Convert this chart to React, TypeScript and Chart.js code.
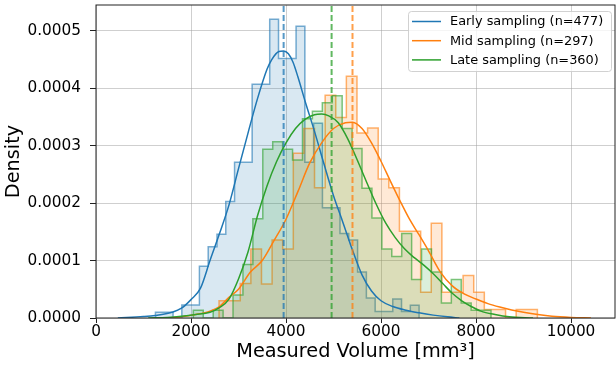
import { useEffect, useRef } from "react";
import { Chart, registerables } from "chart.js";

Chart.register(...registerables);

// ---------- data ----------
const seriesNames = ["Early sampling", "Mid sampling", "Late sampling"];
const sampleSizes = [477, 297, 360];
const seriesRgb = ["31,119,180", "255,127,14", "44,160,44"];

// histogram bins (density)
const earlyBinStart = 1252;
const earlyBinWidth = 185;
const earlyDensity = [
  1.0e-5, 1.0e-5, 0, 2.26e-5, 2.26e-5, 0.9e-4, 1.24e-4, 1.46e-4, 2.03e-4, 2.71e-4,
  2.71e-4, 4.07e-4, 4.07e-4, 5.2e-4, 4.52e-4, 4.52e-4, 5.08e-4, 2.71e-4, 3.39e-4, 1.92e-4,
  1.92e-4, 1.47e-4, 1.36e-4, 0.8e-4, 0.35e-4, 1.15e-5, 1.15e-5, 0.33e-4, 1.15e-5, 2.2e-5,
];

const midBinStart = 2590;
const midBinWidth = 223.4;
const midDensity = [
  3.0e-5, 3.0e-5, 0.6e-4, 1.2e-4, 0.59e-4, 1.36e-4, 1.2e-4, 2.87e-4, 3.3e-4, 2.27e-4,
  3.88e-4, 3.49e-4, 4.21e-4, 3.22e-4, 3.31e-4, 2.42e-4, 2.27e-4, 1.51e-4, 1.51e-4, 0.45e-4,
  1.65e-4, 0.45e-4, 0.45e-4, 0.74e-4, 0.45e-4, 1.5e-5, 1.5e-5, 0, 1.5e-5, 1.5e-5,
];

const lateBinStart = 2049;
const lateBinWidth = 208.9;
const lateDensity = [
  1.33e-5, 0, 1.33e-5, 0, 0.4e-4, 0.93e-4, 1.73e-4, 2.94e-4, 3.07e-4, 2.94e-4,
  2.75e-4, 3.47e-4, 3.6e-4, 3.75e-4, 3.87e-4, 3.3e-4, 2.95e-4, 2.26e-4, 1.74e-4, 1.2e-4,
  1.07e-4, 1.47e-4, 0.67e-4, 1.2e-4, 0.8e-4, 0.26e-4, 0.67e-4, 0.26e-4, 1.33e-5, 1.33e-5,
];

// KDE curves
const earlyKdeX = [460, 1000, 1250, 1600, 1800, 2000, 2200, 2400, 2600, 2800, 3000, 3200, 3400, 3600, 3700, 3850, 3950, 4050, 4150, 4250, 4400, 4600, 4800, 5000, 5200, 5400, 5600, 5800, 6000, 6250, 6500, 6800, 7100, 7400, 7650];
const earlyKdeY = [0, 0.025e-4, 0.045e-4, 0.1e-4, 0.17e-4, 0.32e-4, 0.52e-4, 1.0e-4, 1.47e-4, 1.97e-4, 2.6e-4, 3.22e-4, 3.82e-4, 4.33e-4, 4.5e-4, 4.64e-4, 4.65e-4, 4.6e-4, 4.45e-4, 4.2e-4, 3.78e-4, 3.25e-4, 2.68e-4, 2.13e-4, 1.66e-4, 1.18e-4, 0.75e-4, 0.47e-4, 0.3e-4, 0.2e-4, 0.14e-4, 0.09e-4, 0.05e-4, 0.02e-4, 0];

const midKdeX = [1460, 1800, 2100, 2400, 2600, 2800, 3000, 3250, 3500, 3750, 4000, 4250, 4500, 4750, 5000, 5250, 5400, 5600, 5800, 6000, 6200, 6400, 6600, 6800, 7000, 7250, 7500, 7750, 8000, 8250, 8500, 8750, 9000, 9300, 9600, 10000, 10420];
const midKdeY = [0, 0.02e-4, 0.06e-4, 0.12e-4, 0.2e-4, 0.36e-4, 0.5e-4, 0.8e-4, 1.0e-4, 1.35e-4, 1.72e-4, 2.2e-4, 2.7e-4, 3.05e-4, 3.3e-4, 3.4e-4, 3.41e-4, 3.3e-4, 3.05e-4, 2.73e-4, 2.38e-4, 2.04e-4, 1.72e-4, 1.45e-4, 1.17e-4, 0.8e-4, 0.56e-4, 0.42e-4, 0.33e-4, 0.25e-4, 0.19e-4, 0.14e-4, 0.1e-4, 0.06e-4, 0.03e-4, 0.01e-4, 0];

const lateKdeX = [1100, 1500, 1800, 2100, 2400, 2600, 2800, 3000, 3200, 3400, 3600, 3800, 4000, 4200, 4400, 4600, 4750, 4900, 5100, 5300, 5500, 5700, 5900, 6100, 6300, 6500, 6700, 6900, 7100, 7300, 7500, 7700, 7900, 8100, 8400, 8700, 9200];
const lateKdeY = [0, 0.01e-4, 0.03e-4, 0.06e-4, 0.1e-4, 0.18e-4, 0.33e-4, 0.68e-4, 1.15e-4, 1.78e-4, 2.3e-4, 2.72e-4, 3.05e-4, 3.3e-4, 3.46e-4, 3.54e-4, 3.55e-4, 3.52e-4, 3.4e-4, 3.12e-4, 2.75e-4, 2.36e-4, 1.98e-4, 1.65e-4, 1.4e-4, 1.2e-4, 1.05e-4, 0.92e-4, 0.77e-4, 0.6e-4, 0.43e-4, 0.3e-4, 0.2e-4, 0.12e-4, 0.06e-4, 0.02e-4, 0];

// mean markers (dashed lines)
const meanValues = [3950, 5400, 4960];

// axes
const xTicks = [0, 2000, 4000, 6000, 8000, 10000];
const yTicks = [0, 0.0001, 0.0002, 0.0003, 0.0004, 0.0005];
const xMin = 0;
const xMax = 10926;
const yMin = 0;
const yMax = 0.000545;
const xTitle = "Measured Volume [mm³]";
const yTitle = "Density";

// ---------- helpers ----------
const FONT = "DejaVu Sans";

function stepPoints(start: number, width: number, dens: number[]) {
  const pts: { x: number; y: number }[] = [{ x: start, y: 0 }];
  dens.forEach((d, i) => pts.push({ x: start + i * width, y: d }));
  pts.push({ x: start + dens.length * width, y: 0 });
  return pts;
}

function zip(xs: number[], ys: number[]) {
  return xs.map((x, i) => ({ x, y: ys[i] }));
}

const framePlugin = {
  id: "frameAndLegend",
  afterDraw(chart: any) {
    const { ctx, chartArea: a } = chart;
    ctx.save();
    // frame
    ctx.strokeStyle = "#222";
    ctx.lineWidth = 1;
    ctx.strokeRect(a.left, a.top, a.right - a.left, a.bottom - a.top);

    // legend
    const lx = 408.5, ly = 11.5, lw = 203, lh = 60, r = 3;
    ctx.beginPath();
    ctx.moveTo(lx + r, ly);
    ctx.arcTo(lx + lw, ly, lx + lw, ly + lh, r);
    ctx.arcTo(lx + lw, ly + lh, lx, ly + lh, r);
    ctx.arcTo(lx, ly + lh, lx, ly, r);
    ctx.arcTo(lx, ly, lx + lw, ly, r);
    ctx.closePath();
    ctx.fillStyle = "rgba(255,255,255,0.8)";
    ctx.fill();
    ctx.strokeStyle = "rgba(204,204,204,0.9)";
    ctx.lineWidth = 1;
    ctx.stroke();

    ctx.font = `12.9px "${FONT}"`;
    ctx.textBaseline = "middle";
    ctx.textAlign = "left";
    seriesNames.forEach((name, i) => {
      const y = 21.5 + i * 19.2;
      ctx.strokeStyle = `rgb(${seriesRgb[i]})`;
      ctx.lineWidth = 1.5;
      ctx.beginPath();
      ctx.moveTo(412, y);
      ctx.lineTo(441, y);
      ctx.stroke();
      ctx.fillStyle = "#000";
      ctx.fillText(`${name} (n=${sampleSizes[i]})`, 450, y + 0.5);
    });
    ctx.restore();
  },
};

export default function App() {
  const ref = useRef<HTMLCanvasElement | null>(null);

  useEffect(() => {
    if (!ref.current) return;
    const hists = [
      stepPoints(earlyBinStart, earlyBinWidth, earlyDensity),
      stepPoints(midBinStart, midBinWidth, midDensity),
      stepPoints(lateBinStart, lateBinWidth, lateDensity),
    ];
    const kdes = [
      zip(earlyKdeX, earlyKdeY),
      zip(midKdeX, midKdeY),
      zip(lateKdeX, lateKdeY),
    ];

    const datasets: any[] = [];
    let drawIndex = 0;
    hists.forEach((pts, i) => {
      datasets.push({
        label: seriesNames[i] + " hist",
        data: pts,
        stepped: "before",
        borderColor: `rgba(${seriesRgb[i]},0.6)`,
        backgroundColor: `rgba(${seriesRgb[i]},0.17)`,
        borderWidth: 1.5,
        fill: "origin",
        pointRadius: 0,
        order: 100 - drawIndex++,
      });
    });
    kdes.forEach((pts, i) => {
      datasets.push({
        label: seriesNames[i],
        data: pts,
        borderColor: `rgb(${seriesRgb[i]})`,
        borderWidth: 1.5,
        fill: false,
        pointRadius: 0,
        cubicInterpolationMode: "monotone",
        order: 100 - drawIndex++,
      });
    });
    meanValues.forEach((m, i) => {
      datasets.push({
        label: seriesNames[i] + " mean",
        data: [
          { x: m, y: yMin },
          { x: m, y: yMax },
        ],
        borderColor: `rgba(${seriesRgb[i]},0.75)`,
        borderWidth: 2,
        borderDash: [6, 3],
        fill: false,
        pointRadius: 0,
        order: 100 - drawIndex++,
      });
    });

    const gridColor = "rgba(160,160,160,0.5)";

    const chart = new Chart(ref.current, {
      type: "line",
      data: { datasets },
      plugins: [framePlugin],
      options: {
        responsive: false,
        animation: false,
        devicePixelRatio: 1,
        layout: { padding: { top: 5, right: 1, left: 0, bottom: 0 } },
        plugins: {
          legend: { display: false },
          tooltip: { enabled: false },
        },
        scales: {
          x: {
            type: "linear",
            min: xMin,
            max: xMax,
            afterBuildTicks: (s: any) => {
              s.ticks = xTicks.map((v) => ({ value: v }));
            },
            afterFit: (s: any) => {
              s.height = 50;
              s.paddingLeft = 0;
              s.paddingRight = 0;
            },
            ticks: {
              font: { family: FONT, size: 15.3 },
              color: "#000",
              padding: 0,
              maxRotation: 0,
              autoSkip: false,
              callback: (v: any) => String(v),
            },
            grid: { color: gridColor, lineWidth: 1, tickLength: 5, tickColor: "#222" },
            border: { display: false },
            title: {
              display: true,
              text: xTitle,
              font: { family: FONT, size: 19.3 },
              color: "#000",
              padding: { top: 0, bottom: 4 },
            },
          },
          y: {
            type: "linear",
            min: yMin,
            max: yMax,
            afterBuildTicks: (s: any) => {
              s.ticks = yTicks.map((v) => ({ value: v }));
            },
            afterFit: (s: any) => {
              s.width = 96;
              s.paddingTop = 0;
              s.paddingBottom = 0;
            },
            ticks: {
              font: { family: FONT, size: 15.3 },
              color: "#000",
              padding: 9,
              autoSkip: false,
              callback: (v: any) => Number(v).toFixed(4),
            },
            grid: { color: gridColor, lineWidth: 1, tickLength: 6, tickColor: "#222" },
            border: { display: false },
            title: {
              display: true,
              text: yTitle,
              font: { family: FONT, size: 19.3 },
              color: "#000",
              padding: { top: 2, bottom: 0 },
            },
          },
        },
      } as any,
    });
    return () => chart.destroy();
  }, []);

  return (
    <div style={{ position: "fixed", left: 0, top: 0, width: 616, height: 368, background: "#fff" }}>
      <canvas ref={ref} width={616} height={368} style={{ display: "block" }} />
    </div>
  );
}
